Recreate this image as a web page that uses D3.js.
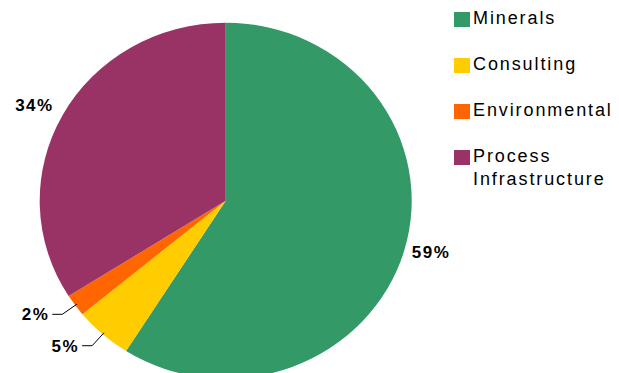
<!DOCTYPE html>
<html>
<head>
<meta charset="utf-8">
<script src="https://cdn.jsdelivr.net/npm/d3@7"></script>
<style>
  body { margin: 0; background: #fff; }
  svg { display: block; font-family: "Liberation Sans", Arial, sans-serif; }
</style>
</head>
<body>
<div id="piechart"></div>
<script>
var categories = ["Minerals", "Consulting", "Environmental", "Process Infrastructure"];
var values = [59, 5, 2, 34];
var colors = ["#339966", "#ffcc00", "#ff6600", "#993366"];
var legendLines = [["Minerals"], ["Consulting"], ["Environmental"], ["Process", "Infrastructure"]];

var width = 619,
  height = 373,
  cx = 225.7,
  cy = 200.7,
  radius = 186,
  squash = 178 / 186;

var svg = d3.select("#piechart").append("svg")
  .attr("width", width)
  .attr("height", height);

var data = values.map(function(v, i) {
  return { name: categories[i], value: v, color: colors[i] };
});

var pie = d3.pie()
  .sort(null)
  .value(function(d) { return d.value; });

var arc = d3.arc()
  .outerRadius(radius)
  .innerRadius(0);

var arcs = pie(data);

var g = svg.append("g")
  .attr("transform", "translate(" + cx + "," + cy + ") scale(1," + squash + ")");

g.selectAll("path")
  .data(arcs)
  .enter().append("path")
  .attr("d", arc)
  .attr("fill", function(d) { return d.data.color; });

// point on the (squashed) ellipse at angle a, radius r
function pt(a, r) {
  return [cx + r * Math.sin(a), cy - r * Math.cos(a) * squash];
}

var labels = svg.append("g")
  .style("font-weight", "bold")
  .style("font-size", "17px")
  .style("letter-spacing", "1.5px");

arcs.forEach(function(d) {
  var mid = (d.startAngle + d.endAngle) / 2;
  var txt = d.data.value + "%";
  if (d.data.value >= 10) {
    var p = pt(mid, 216);
    var left = Math.sin(mid) < 0;
    labels.append("text")
      .attr("x", p[0] - 2)
      .attr("y", p[1] + (left ? 10 : 0))
      .attr("text-anchor", "middle")
      .text(txt);
  } else {
    var p0 = pt(mid, 184),
      p1 = pt(mid, 202),
      p2 = [p1[0] - 10, p1[1]];
    svg.append("polyline")
      .attr("points", [p0, p1, p2].map(function(p) { return p.join(","); }).join(" "))
      .attr("fill", "none")
      .attr("stroke", "#000")
      .attr("stroke-width", 1);
    labels.append("text")
      .attr("x", p2[0] - 3)
      .attr("y", p2[1] + 6)
      .attr("text-anchor", "end")
      .text(txt);
  }
});

var legendY = d3.scaleBand()
  .domain(categories)
  .range([8, 192]);

var legend = svg.append("g")
  .style("font-size", "18px")
  .style("letter-spacing", "1.9px");

var item = legend.selectAll("g")
  .data(data)
  .enter().append("g")
  .attr("transform", function(d) { return "translate(454," + legendY(d.name) + ")"; });

item.append("rect")
  .attr("x", 0)
  .attr("y", 4)
  .attr("width", 16)
  .attr("height", 15)
  .attr("fill", function(d) { return d.color; });

item.append("text")
  .attr("x", 19)
  .attr("y", 16)
  .selectAll("tspan")
  .data(function(d, i) { return legendLines[i]; })
  .enter().append("tspan")
  .attr("x", 19)
  .attr("dy", function(d, i) { return i ? 23 : 0; })
  .text(function(d) { return d; });
</script>
</body>
</html>
